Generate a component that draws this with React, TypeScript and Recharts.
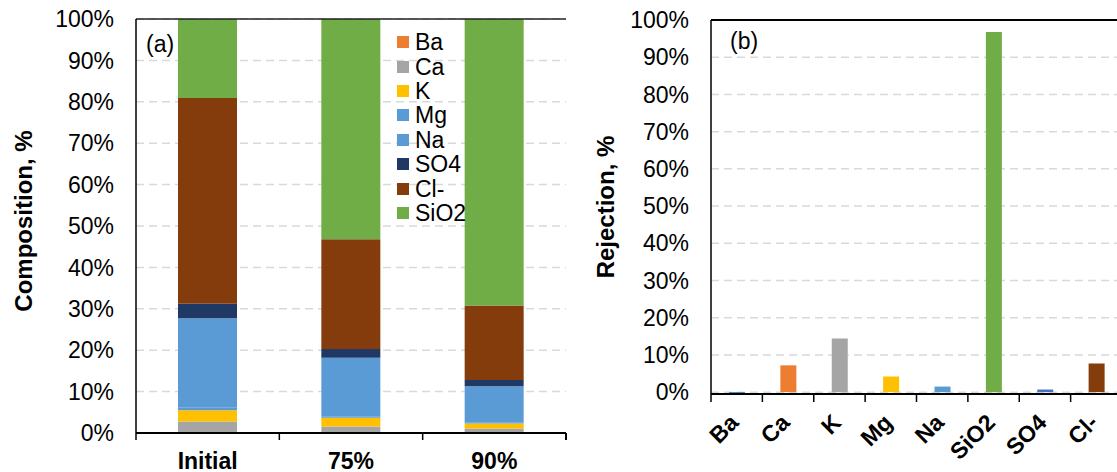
import { BarChart, Bar, XAxis, YAxis, CartesianGrid, Cell, ReferenceLine } from "recharts";

const FONT = "Liberation Sans, Arial, sans-serif";

// (a) composition of the concentrate at each stage
const stages = ["Initial", "75%", "90%"];
const ions = ["Ba", "Ca", "K", "Mg", "Na", "SO4", "Cl-", "SiO2"];
const ionColors = ["#ED7D31", "#A5A5A5", "#FFC000", "#5B9BD5", "#5B9BD5", "#203864", "#843C0C", "#70AD47"];
const ba = [0.1, 0, 0];
const ca = [2.7, 1.6, 1.1];
const k = [2.7, 2.1, 1.2];
const mg = [0.6, 0.2, 0.2];
const na = [21.6, 14.3, 8.8];
const so4 = [3.5, 2.1, 1.5];
const cl = [49.7, 26.5, 18.0];
const sio2 = [19.1, 53.2, 69.2];
const ionValues = [ba, ca, k, mg, na, so4, cl, sio2];

// (b) rejection per ion
const rejectionIons = ["Ba", "Ca", "K", "Mg", "Na", "SiO2", "SO4", "Cl-"];
const rejection = [-0.5, 7.2, 14.4, 4.2, 1.5, 96.8, 0.7, 7.7];
const rejectionColors = ["#4472C4", "#ED7D31", "#A5A5A5", "#FFC000", "#5B9BD5", "#70AD47", "#4472C4", "#843C0C"];

const percentTicks = [0, 10, 20, 30, 40, 50, 60, 70, 80, 90, 100];

const compositionRows = stages.map((stage, i) => {
  const row: Record<string, string | number> = { stage };
  ions.forEach((ion, j) => (row[ion] = ionValues[j][i]));
  return row;
});
const rejectionRows = rejectionIons.map((ion, i) => ({ ion, value: rejection[i] }));

// Excel style: tick marks sit between categories, label in the middle
function boundaryMarks(x: number, y: number, band: number, last: boolean, len: number) {
  return (
    <>
      <line x1={x - band / 2} x2={x - band / 2} y1={y} y2={y + len} stroke="#000" strokeWidth={1.5} />
      {last && <line x1={x + band / 2} x2={x + band / 2} y1={y} y2={y + len} stroke="#000" strokeWidth={2} />}
    </>
  );
}

function StageTick({ x, y, payload, index, visibleTicksCount, width }: any) {
  const band = width / visibleTicksCount;
  return (
    <g>
      {boundaryMarks(x, y, band, index === visibleTicksCount - 1, 7)}
      <text x={x} y={y + 36} textAnchor="middle" fontFamily={FONT} fontSize={23} fontWeight="bold" fill="#000">
        {payload.value}
      </text>
    </g>
  );
}

function IonTick({ x, y, payload, index, visibleTicksCount, width }: any) {
  const band = width / visibleTicksCount;
  const tx = x + 3;
  const ty = y + 30;
  return (
    <g>
      {boundaryMarks(x, y, band, index === visibleTicksCount - 1, 8)}
      <text
        x={tx}
        y={ty}
        transform={`rotate(-45 ${tx} ${ty})`}
        textAnchor="end"
        fontFamily={FONT}
        fontSize={23}
        fontWeight="bold"
        fill="#000"
      >
        {payload.value}
      </text>
    </g>
  );
}

const axisTitle = (text: string, dx: number, dy: number) => (p: any) => {
  const { x, y, height } = p.viewBox;
  const cx = x + dx;
  const cy = y + height / 2 + dy;
  return (
    <text
      x={cx}
      y={cy}
      transform={`rotate(-90 ${cx} ${cy})`}
      textAnchor="middle"
      fontFamily={FONT}
      fontSize={24}
      fontWeight="bold"
      fill="#000"
    >
      {text}
    </text>
  );
};

const tickStyle = { fontFamily: FONT, fontSize: 23, fill: "#000" };

export default function App() {
  return (
    <div
      style={{
        position: "fixed",
        left: 0,
        top: 0,
        width: 1117,
        height: 472,
        overflow: "hidden",
        background: "#fff",
        fontFamily: FONT,
      }}
    >
      <div style={{ position: "absolute", left: 0, top: 0 }}>
        <BarChart width={600} height={472} data={compositionRows} margin={{ top: 19, right: 34, bottom: 0, left: 0 }}>
          <CartesianGrid vertical={false} stroke="#D9D9D9" strokeWidth={1.5} strokeDasharray="8 5" />
          <XAxis
            dataKey="stage"
            interval={0}
            height={39}
            tickSize={0}
            tickMargin={0}
            tickLine={false}
            axisLine={{ stroke: "#000", strokeWidth: 2 }}
            tick={<StageTick />}
          />
          <YAxis
            domain={[0, 100]}
            ticks={percentTicks}
            interval={0}
            width={136}
            tickSize={0}
            tickMargin={22}
            tickLine={false}
            axisLine={{ stroke: "#000", strokeWidth: 1.5 }}
            tick={tickStyle}
            tickFormatter={(v) => `${v}%`}
            label={{ content: axisTitle("Composition, %", 32, -5) }}
          />
          <YAxis
            yAxisId="frame"
            orientation="right"
            domain={[0, 100]}
            width={0}
            tick={false}
            tickLine={false}
            axisLine={{ stroke: "#000", strokeWidth: 2 }}
          />
          {ions.map((ion, j) => (
            <Bar
              key={ion}
              dataKey={ion}
              stackId="a"
              fill={ionColors[j]}
              barSize={59}
              isAnimationActive={false}
            />
          ))}
          <ReferenceLine y={100} stroke="#222" strokeWidth={1.5} />
        </BarChart>
      </div>

      <div style={{ position: "absolute", left: 146, top: 33, fontSize: 23, lineHeight: "23px" }}>(a)</div>

      <div style={{ position: "absolute", left: 397, top: 30 }}>
        {ions.map((ion, j) => (
          <div key={ion} style={{ display: "flex", alignItems: "center", height: 24.4 }}>
            <span style={{ width: 12, height: 12, background: ionColors[j], marginRight: 6 }} />
            <span style={{ fontSize: 23, lineHeight: "24px" }}>{ion}</span>
          </div>
        ))}
      </div>

      <div style={{ position: "absolute", left: 580, top: 0 }}>
        <BarChart width={560} height={472} data={rejectionRows} margin={{ top: 20, right: 18, bottom: 0, left: 0 }}>
          <CartesianGrid vertical={false} stroke="#D9D9D9" strokeWidth={1.5} strokeDasharray="8 5" />
          <XAxis
            dataKey="ion"
            interval={0}
            height={78}
            tickSize={0}
            tickMargin={0}
            tickLine={false}
            axisLine={{ stroke: "#000", strokeWidth: 2 }}
            tick={<IonTick />}
          />
          <YAxis
            domain={[0, 100]}
            ticks={percentTicks}
            interval={0}
            width={131}
            tickSize={0}
            tickMargin={22}
            tickLine={false}
            axisLine={{ stroke: "#000", strokeWidth: 1.5 }}
            tick={tickStyle}
            tickFormatter={(v) => `${v}%`}
            label={{ content: axisTitle("Rejection, %", 34, 0) }}
          />
          <Bar dataKey="value" barSize={16} isAnimationActive={false}>
            {rejectionRows.map((r, i) => (
              <Cell key={r.ion} fill={rejectionColors[i]} />
            ))}
          </Bar>
          <ReferenceLine y={100} stroke="#000" strokeWidth={2} />
        </BarChart>
      </div>

      <div style={{ position: "absolute", left: 730, top: 30, fontSize: 23, lineHeight: "23px" }}>(b)</div>
    </div>
  );
}
